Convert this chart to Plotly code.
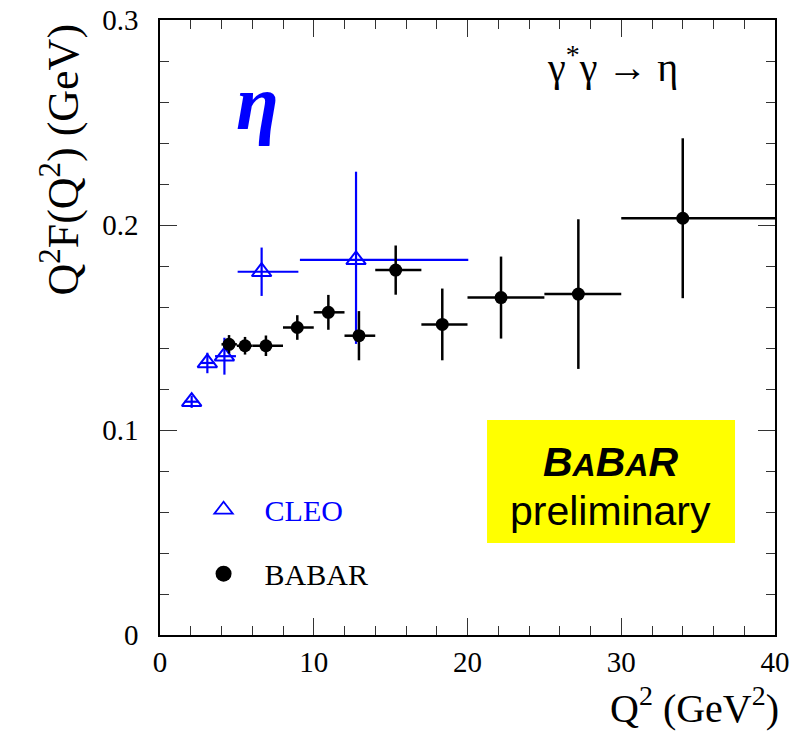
import plotly.graph_objects as go

# ---- data ----
cleo_q2 = [2.06, 3.08, 4.19, 6.61, 12.75]
cleo_f = [0.1138, 0.1327, 0.136, 0.1772, 0.183]
cleo_xlo = [1.6, 2.6, 3.58, 5.05, 9.1]
cleo_xhi = [2.5, 3.55, 4.94, 9.0, 20.05]
cleo_eyp = [0.003, 0.005, 0.009, 0.0118, 0.043]
cleo_eym = [0.003, 0.005, 0.009, 0.0118, 0.041]

babar_q2 = [4.49, 5.53, 6.89, 8.93, 10.95, 12.94, 15.33, 18.36, 22.18, 27.21, 34.0]
babar_f = [0.1418, 0.1411, 0.1411, 0.150, 0.1574, 0.146, 0.178, 0.1515, 0.1646, 0.1663, 0.2033]
babar_lo = [4, 5, 6, 8, 10, 12, 14, 17, 20, 25, 30]
babar_hi = [5, 6, 8, 10, 12, 14, 17, 20, 25, 30, 40]
babar_ey = [0.0045, 0.0043, 0.005, 0.006, 0.0085, 0.012, 0.012, 0.0175, 0.020, 0.0365, 0.039]

x_ticks = [0, 10, 20, 30, 40]
y_ticks = [0, 0.1, 0.2, 0.3]

BLUE = "#0000ff"
SERIF = "Liberation Serif"

fig = go.Figure()

fig.add_trace(go.Scatter(
    x=cleo_q2, y=cleo_f, mode="markers", name="CLEO", showlegend=False,
    marker=dict(symbol="triangle-up-open", size=17, color=BLUE, line=dict(width=2, color=BLUE)),
    error_x=dict(type="data", symmetric=False,
                 array=[h - x for h, x in zip(cleo_xhi, cleo_q2)],
                 arrayminus=[x - l for l, x in zip(cleo_xlo, cleo_q2)],
                 color=BLUE, thickness=2.2, width=0),
    error_y=dict(type="data", symmetric=False, array=cleo_eyp, arrayminus=cleo_eym,
                 color=BLUE, thickness=2.2, width=0),
))

fig.add_trace(go.Scatter(
    x=babar_q2, y=babar_f, mode="markers", name="BABAR", showlegend=False,
    marker=dict(symbol="circle", size=13, color="black"),
    error_x=dict(type="data", symmetric=False,
                 array=[h - x for h, x in zip(babar_hi, babar_q2)],
                 arrayminus=[x - l for l, x in zip(babar_lo, babar_q2)],
                 color="black", thickness=2.5, width=0),
    error_y=dict(type="data", array=babar_ey, color="black", thickness=2.5, width=0),
))

# legend entries (larger keys, as in the reference)
fig.add_trace(go.Scatter(
    x=[None], y=[None], mode="markers", name=f"<span style='color:{BLUE}'>CLEO</span>",
    legendgroup="a",
    marker=dict(symbol="triangle-up-open", size=20, color=BLUE, line=dict(width=1.8, color=BLUE)),
))
fig.add_trace(go.Scatter(
    x=[None], y=[None], mode="markers", name="BABAR", legendgroup="b",
    marker=dict(symbol="circle", size=22, color="black"),
))

axis_common = dict(
    showgrid=False, zeroline=False, showline=True, linecolor="black", linewidth=1.5,
    mirror="allticks", ticks="inside", ticklen=17, tickcolor="#333333", tickwidth=1,
    tickfont=dict(family=SERIF, size=29, color="black"), automargin=False,
)

fig.update_xaxes(range=[0, 40], tickvals=x_ticks,
                 minor=dict(dtick=2, ticks="inside", ticklen=9, tickcolor="#333333", tickwidth=1),
                 **axis_common)
fig.update_yaxes(range=[0, 0.3], tickvals=y_ticks, ticktext=[str(v) for v in y_ticks],
                 ticklabelstandoff=14,
                 minor=dict(dtick=0.02, ticks="inside", ticklen=9, tickcolor="#333333", tickwidth=1),
                 **axis_common)

# yellow BABAR preliminary box
fig.add_shape(type="rect", x0=21.27, x1=37.4, y0=0.0449, y1=0.1049,
              fillcolor="#ffff00", line=dict(width=0), layer="below")
fig.add_annotation(x=29.33, y=0.0845, xref="x", yref="y", showarrow=False,
                   text="<b><i>B<span style='font-size:32px'>A</span>B<span style='font-size:32px'>A</span>R</i></b>",
                   font=dict(family="Liberation Sans", size=41, color="black"))
fig.add_annotation(x=29.33, y=0.0605, xref="x", yref="y", showarrow=False,
                   text="preliminary",
                   font=dict(family="Liberation Sans", size=41, color="black"))

# eta label
fig.add_annotation(x=6.37, y=0.26, xref="x", yref="y", showarrow=False,
                   text="<b><i>η</i></b>", font=dict(family=SERIF, size=78, color=BLUE))

# process label
fig.add_annotation(x=29.4, y=0.2785, xref="x", yref="y", showarrow=False,
                   text="γ<sup>*</sup>γ → η", font=dict(family=SERIF, size=40, color="black"))

# axis titles
fig.add_annotation(x=1, y=0, xref="paper", yref="paper", xanchor="right", yanchor="top",
                   yshift=-43, xshift=6, showarrow=False,
                   text="Q<sup>2</sup> (GeV<sup>2</sup>)",
                   font=dict(family=SERIF, size=40, color="black"))
fig.add_annotation(x=0, y=1, xref="paper", yref="paper", xanchor="right", yanchor="top",
                   xshift=-71, yshift=-2, showarrow=False, textangle=-90,
                   text="Q<sup>2</sup>F(Q<sup>2</sup>) (GeV)",
                   font=dict(family=SERIF, size=44, color="black"))

fig.update_layout(
    width=796, height=733,
    margin=dict(l=160, r=21, t=20, b=98, autoexpand=False),
    paper_bgcolor="white", plot_bgcolor="white",
    showlegend=True,
    legend=dict(x=0.0367, y=0.246, xanchor="left", yanchor="top",
                font=dict(family=SERIF, size=30, color="black"),
                bgcolor="rgba(0,0,0,0)", traceorder="grouped", tracegroupgap=22,
                itemwidth=72),
)

fig.write_html("out.html")
